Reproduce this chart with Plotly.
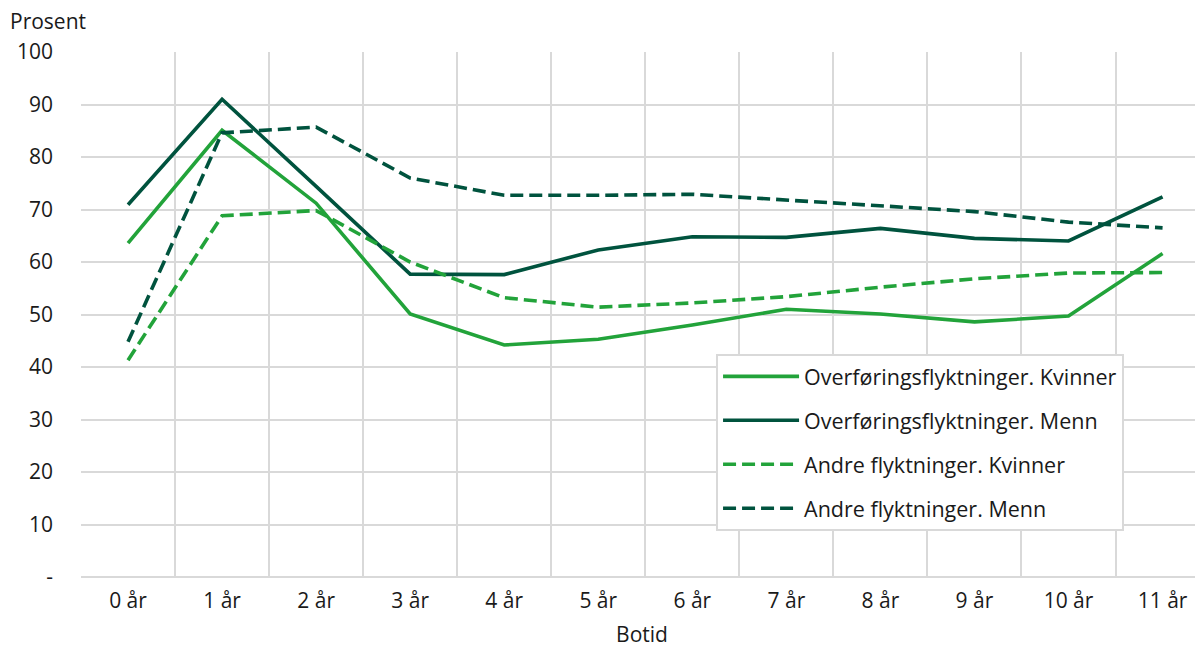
import plotly.graph_objects as go

categories = ["0 år", "1 år", "2 år", "3 år", "4 år", "5 år", "6 år", "7 år", "8 år", "9 år", "10 år", "11 år"]
overf_kvinner = [63.6, 85.1, 71.2, 50.1, 44.2, 45.3, 48.0, 51.0, 50.1, 48.6, 49.7, 61.6]
overf_menn = [70.9, 91.0, 74.4, 57.7, 57.6, 62.3, 64.8, 64.7, 66.4, 64.5, 64.0, 72.4]
andre_kvinner = [41.3, 68.8, 69.8, 60.0, 53.2, 51.4, 52.2, 53.4, 55.2, 56.8, 57.9, 58.0]
andre_menn = [44.8, 84.6, 85.7, 76.0, 72.7, 72.7, 72.9, 71.8, 70.8, 69.6, 67.6, 66.5]
yticks = [0, 10, 20, 30, 40, 50, 60, 70, 80, 90, 100]
ytick_labels = ["-", "10", "20", "30", "40", "50", "60", "70", "80", "90", "100"]

LIGHT = "#22a33a"
DARK = "#00533e"
GRID = "#d9d9d9"
FONT = "Open Sans"
FS = 21

x = list(range(len(categories)))
series = [
    ("Overføringsflyktninger. Kvinner", overf_kvinner, LIGHT, "solid"),
    ("Overføringsflyktninger. Menn", overf_menn, DARK, "solid"),
    ("Andre flyktninger. Kvinner", andre_kvinner, LIGHT, "13px,6px"),
    ("Andre flyktninger. Menn", andre_menn, DARK, "13px,6px"),
]

fig = go.Figure()
for i, (name, vals, col, dash) in enumerate(series):
    fig.add_trace(go.Scatter(
        x=x, y=vals, name=name, mode="lines", legendgroup=str(i),
        line=dict(color=col, width=3.6, dash=dash),
    ))

# page body has an 8px margin: figure is sized/offset to compensate
fig.update_layout(
    width=1195, height=640,
    paper_bgcolor="white", plot_bgcolor="white",
    margin=dict(l=73, r=0, t=44, b=71),
    font=dict(family=FONT, size=FS, color="#1a1a1a"),
    showlegend=True,
    legend=dict(
        x=0.566, y=0.425, xanchor="left", yanchor="top",
        bgcolor="white", bordercolor=GRID, borderwidth=2,
        traceorder="grouped", tracegroupgap=13, itemwidth=76,
        font=dict(family=FONT, size=21.5, color="#1a1a1a"),
    ),
    xaxis=dict(
        range=[-0.5, 11.43], automargin=False,
        tickmode="array", tickvals=x, ticktext=categories,
        showgrid=False, zeroline=False, showline=False,
        ticks="", tickfont=dict(size=FS), ticklabelstandoff=9,
        minor=dict(tickmode="array", tickvals=[i - 0.5 for i in range(13)],
                   showgrid=True, gridcolor=GRID, gridwidth=2, ticks=""),
        title=dict(text="Botid", font=dict(size=FS), standoff=19),
    ),
    yaxis=dict(
        range=[0, 100], automargin=False,
        tickmode="array", tickvals=yticks, ticktext=ytick_labels,
        showgrid=True, gridcolor=GRID, gridwidth=2,
        zeroline=True, zerolinecolor=GRID, zerolinewidth=2,
        showline=False, ticks="", tickfont=dict(size=FS),
        ticklabelstandoff=27,
    ),
)
fig.add_annotation(
    text="Prosent", xref="paper", yref="paper", x=0, y=1,
    xanchor="left", yanchor="middle", xshift=-73, yshift=31,
    showarrow=False, font=dict(family=FONT, size=FS, color="#1a1a1a"),
)

fig.write_html("out.html")
